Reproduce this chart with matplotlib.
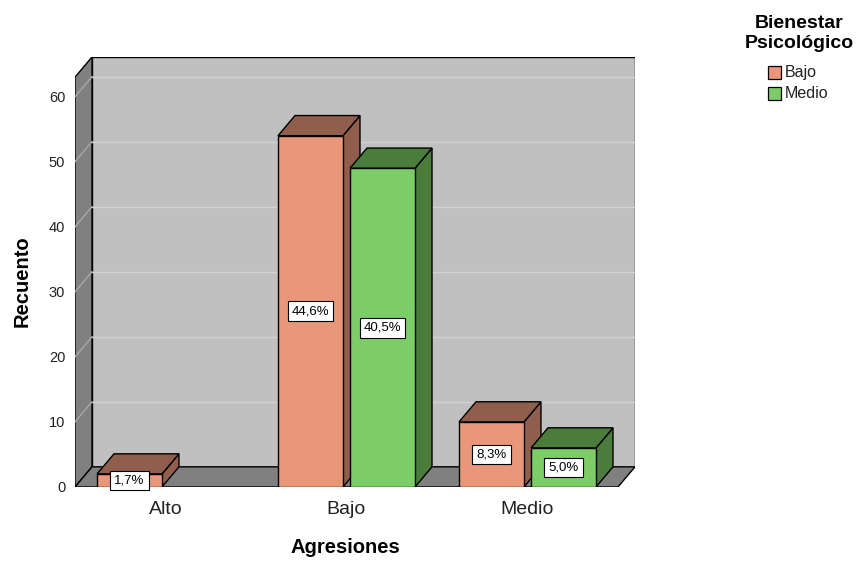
import matplotlib
matplotlib.use("Agg")
import matplotlib.pyplot as plt
from matplotlib.patches import Rectangle

plt.rcParams["font.family"] = ["Liberation Sans", "DejaVu Sans"]

categories = ["Alto", "Bajo", "Medio"]
groups = ["Bajo", "Medio"]
# counts per category for each Bienestar group (None = no bar)
counts = {
    "Bajo": [2, 54, 10],
    "Medio": [None, 49, 6],
}
total = sum(v for s in counts.values() for v in s if v)
y_ticks = [0, 10, 20, 30, 40, 50, 60]

front = {"Bajo": "#e9977a", "Medio": "#7ccd68"}
shade = {"Bajo": "#8f5e4c", "Medio": "#4a7c3c"}

# oblique depth offset (x in category units, y in count units)
DX, DY = 0.094, 3.1
YTOP = 63.0
BAR_W, GAP, MARGIN = 0.359, 0.039, 0.1215

W, H = 860, 561
fig = plt.figure(figsize=(W / 100, H / 100), dpi=100)
ax = fig.add_axes([75 / W, 74 / H, 560 / W, 430 / H])
ax.set_xlim(0, len(categories) + DX)
ax.set_ylim(0, YTOP + DY)
for s in ax.spines.values():
    s.set_visible(False)

n = len(categories)
# walls and floor
ax.fill([DX, n + DX, n + DX, DX], [DY, DY, YTOP + DY, YTOP + DY],
        facecolor="#c0c0c0", edgecolor="black", lw=1, zorder=1)
ax.fill([0, DX, DX, 0], [0, DY, YTOP + DY, YTOP],
        facecolor="#808080", edgecolor="black", lw=1, zorder=1)
ax.fill([0, n, n + DX, DX], [0, 0, DY, DY],
        facecolor="#808080", edgecolor="black", lw=1, zorder=1)
for v in y_ticks[1:]:
    ax.plot([DX, n + DX], [v + DY, v + DY], color="#d2d2d2", lw=1, zorder=2)
    ax.plot([0, DX], [v, v + DY], color="#a8a8a8", lw=1, zorder=2)

# 3D bars
z = 3
for i in range(n):
    for j, g in enumerate(groups):
        h = counts[g][i]
        if h is None:
            continue
        x0 = i + MARGIN + j * (BAR_W + GAP)
        x1 = x0 + BAR_W
        ax.fill([x1, x1 + DX, x1 + DX, x1], [0, DY, h + DY, h],
                facecolor=shade[g], edgecolor="black", lw=1, zorder=z)
        ax.fill([x0, x0 + DX, x1 + DX, x1], [h, h + DY, h + DY, h],
                facecolor=shade[g], edgecolor="black", lw=1, zorder=z)
        ax.fill([x0, x1, x1, x0], [0, 0, h, h],
                facecolor=front[g], edgecolor="black", lw=1, zorder=z)
        z += 1
        pct = f"{h / total * 100:.1f}%".replace(".", ",")
        ax.text((x0 + x1) / 2, h / 2, pct, ha="center", va="center",
                fontsize=9.5, zorder=50,
                bbox=dict(boxstyle="square,pad=0.3", facecolor="white",
                          edgecolor="black", lw=0.8))

ax.set_yticks(y_ticks)
ax.set_yticklabels([str(v) for v in y_ticks], fontsize=10.5, color="#222222")
ax.set_xticks([i + 0.5 for i in range(n)])
ax.set_xticklabels(categories, fontsize=14, color="#222222")
ax.tick_params(axis="y", length=0, pad=7)
ax.tick_params(axis="x", length=0, pad=10)
ax.set_ylabel("Recuento", fontsize=14.5, fontweight="bold")
ax.set_xlabel("Agresiones", fontsize=14.5, fontweight="bold")
ax.yaxis.set_label_coords(-0.077, 0.478)
ax.xaxis.set_label_coords(0.482, -0.118)

# legend block, placed in figure pixels
def px(x, y):
    return x / W, 1 - y / H

fig.text(*px(799, 28), "Bienestar", ha="center", va="baseline",
         fontsize=14, fontweight="bold")
fig.text(*px(799, 48), "Psicológico", ha="center", va="baseline",
         fontsize=14, fontweight="bold")
for k, g in enumerate(groups):
    top = 66 + k * 21
    fig.add_artist(Rectangle(px(768, top + 13), 13 / W, 13 / H,
                             transform=fig.transFigure, facecolor=front[g],
                             edgecolor="black", lw=0.9))
    fig.text(*px(785, top + 6.5), g, ha="left", va="center", fontsize=11.5,
             color="#222222")

fig.savefig("out.png", dpi=100)
